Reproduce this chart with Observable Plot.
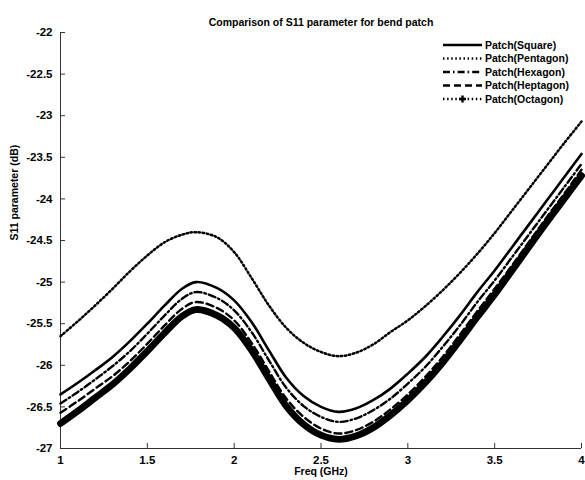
<!DOCTYPE html>
<html>
<head>
<meta charset="utf-8">
<script src="https://cdn.jsdelivr.net/npm/d3@7"></script>
<script src="https://cdn.jsdelivr.net/npm/@observablehq/plot@0.6"></script>
<style>
  body { margin: 0; background: #fff; }
  #chart svg { display: block; }
</style>
</head>
<body>
<div id="chart"></div>
<script>
// Frequency sweep (GHz)
const freq = [1.0, 1.1, 1.2, 1.3, 1.4, 1.5, 1.6, 1.7, 1.78, 1.9, 2.0, 2.1, 2.2, 2.3, 2.4, 2.5,
              2.6, 2.7, 2.8, 2.9, 3.0, 3.1, 3.2, 3.3, 3.4, 3.5, 3.6, 3.7, 3.8, 3.9, 4.0];

// S11 (dB) for each patch shape
const square   = [-26.35, -26.21, -26.06, -25.90, -25.71, -25.50, -25.28, -25.08, -25.00, -25.07, -25.22,
                  -25.48, -25.82, -26.15, -26.37, -26.50, -26.56, -26.52, -26.42, -26.28, -26.10,
                  -25.90, -25.66, -25.40, -25.12, -24.86, -24.58, -24.30, -24.02, -23.74, -23.46];
const pentagon = [-25.65, -25.47, -25.28, -25.08, -24.87, -24.68, -24.52, -24.43, -24.40, -24.46, -24.64,
                  -24.95, -25.28, -25.55, -25.73, -25.84, -25.89, -25.85, -25.75, -25.60, -25.46,
                  -25.29, -25.10, -24.89, -24.66, -24.41, -24.14, -23.87, -23.60, -23.33, -23.07];
const hexagon  = [-26.46, -26.32, -26.17, -26.01, -25.83, -25.62, -25.40, -25.20, -25.12, -25.19, -25.34,
                  -25.60, -25.94, -26.27, -26.49, -26.62, -26.68, -26.64, -26.54, -26.40, -26.22,
                  -26.02, -25.78, -25.52, -25.24, -24.98, -24.70, -24.42, -24.14, -23.86, -23.58];
const heptagon = [-26.57, -26.43, -26.28, -26.13, -25.95, -25.74, -25.52, -25.32, -25.24, -25.31, -25.46,
                  -25.73, -26.07, -26.40, -26.62, -26.76, -26.82, -26.78, -26.68, -26.53, -26.35,
                  -26.14, -25.90, -25.63, -25.35, -25.08, -24.80, -24.51, -24.22, -23.94, -23.65];
const octagon  = [-26.70, -26.55, -26.39, -26.23, -26.04, -25.83, -25.61, -25.41, -25.33, -25.40, -25.55,
                  -25.82, -26.16, -26.49, -26.71, -26.84, -26.89, -26.85, -26.75, -26.60, -26.42,
                  -26.21, -25.97, -25.70, -25.42, -25.15, -24.86, -24.57, -24.28, -24.00, -23.72];

const seriesNames = ["Patch(Square)", "Patch(Pentagon)", "Patch(Hexagon)", "Patch(Heptagon)", "Patch(Octagon)"];
const seriesValues = [square, pentagon, hexagon, heptagon, octagon];

const xTicks = [1, 1.5, 2, 2.5, 3, 3.5, 4];
const yTicks = [-22, -22.5, -23, -23.5, -24, -24.5, -25, -25.5, -26, -26.5, -27];

const titleText = "Comparison of S11 parameter for bend patch";
const xLabel = "Freq (GHz)";
const yLabel = "S11 parameter (dB)";

// Line style per series
const styles = {
  "Patch(Square)":   {strokeWidth: 2.6, dash: null},
  "Patch(Pentagon)": {strokeWidth: 2.5, dash: "1.5,2.6"},
  "Patch(Hexagon)":  {strokeWidth: 2.4, dash: "7,3,1.6,3"},
  "Patch(Heptagon)": {strokeWidth: 2.4, dash: "7,4"},
  "Patch(Octagon)":  {strokeWidth: 6.8, dash: null}
};

const toRows = (name) => {
  const vals = seriesValues[seriesNames.indexOf(name)];
  return freq.map((f, i) => ({freq: f, s11: vals[i], name}));
};

const W = 585, H = 480;
const mL = 60, mR = 4, mT = 32, mB = 32;
const innerW = W - mL - mR, innerH = H - mT - mB;
const tickLen = 5;
const fontStack = "'Liberation Sans', Arial, sans-serif";

// draw thick band first so the thinner lines stay visible on top
const drawOrder = ["Patch(Octagon)", "Patch(Heptagon)", "Patch(Hexagon)", "Patch(Square)", "Patch(Pentagon)"];

const lineMarks = drawOrder.map(name => Plot.line(toRows(name), {
  x: "freq", y: "s11",
  stroke: "#000",
  strokeWidth: styles[name].strokeWidth,
  strokeDasharray: styles[name].dash,
  curve: "catmull-rom"
}));

const chart = Plot.plot({
  width: W, height: H,
  marginLeft: mL, marginRight: mR, marginTop: mT, marginBottom: mB,
  style: {fontFamily: fontStack, fontSize: "11px", fontWeight: "bold", background: "#fff", color: "#000"},
  x: {domain: [1, 4]},
  y: {domain: [-27, -22]},
  marks: [
    // axis lines
    Plot.ruleX([1], {stroke: "#333", strokeWidth: 1}),
    Plot.ruleY([-27], {stroke: "#333", strokeWidth: 1}),
    // inward ticks
    Plot.tickY(yTicks, {y: d => d, stroke: "#333", insetRight: innerW - tickLen}),
    Plot.tickX(xTicks, {x: d => d, stroke: "#333", insetTop: innerH - tickLen}),
    // tick labels
    Plot.axisY(yTicks, {tickSize: 0, tickPadding: 8, label: null, tickFormat: d => String(d), fontSize: 11.5, fontWeight: "bold"}),
    Plot.axisX(xTicks, {tickSize: 0, tickPadding: 7, label: null, tickFormat: d => String(d), fontSize: 11.5, fontWeight: "bold"}),
    ...lineMarks,
    // title and axis titles
    Plot.text([titleText], {frameAnchor: "top", dy: -14, fontSize: 10.5, fontWeight: "bold", text: d => d}),
    Plot.text([xLabel], {frameAnchor: "bottom", dy: 26, fontSize: 10.5, fontWeight: "bold", text: d => d}),
    Plot.text([yLabel], {frameAnchor: "left", dx: -46, rotate: -90, fontSize: 10.5, fontWeight: "bold", text: d => d})
  ]
});

document.getElementById("chart").appendChild(chart);

// Legend in the upper-right corner
const svg = d3.select(chart);
const legendX0 = 443, legendX1 = 482, legendTop = 45, legendStep = 13.5;
const legend = svg.append("g").attr("class", "legend").attr("text-anchor", "start");
seriesNames.forEach((name, i) => {
  const y = legendTop + i * legendStep;
  const st = styles[name];
  if (name === "Patch(Octagon)") {
    legend.append("line")
      .attr("x1", legendX0).attr("x2", legendX1).attr("y1", y).attr("y2", y)
      .attr("stroke", "#000").attr("stroke-width", 2.4).attr("stroke-dasharray", "1.5,2.6");
    const cx = (legendX0 + legendX1) / 2;
    legend.append("path")
      .attr("d", `M${cx - 3.5},${y}H${cx + 3.5}M${cx},${y - 3.5}V${y + 3.5}`)
      .attr("stroke", "#000").attr("stroke-width", 2.4);
  } else {
    legend.append("line")
      .attr("x1", legendX0).attr("x2", legendX1).attr("y1", y).attr("y2", y)
      .attr("stroke", "#000").attr("stroke-width", Math.min(st.strokeWidth, 2.6))
      .attr("stroke-dasharray", st.dash);
  }
  legend.append("text")
    .attr("x", legendX1 + 3).attr("y", y).attr("dy", "0.35em")
    .attr("text-anchor", "start")
    .attr("font-size", 10.5).attr("font-weight", "bold")
    .attr("font-family", fontStack)
    .attr("fill", "#000")
    .text(name);
});
</script>
</body>
</html>
